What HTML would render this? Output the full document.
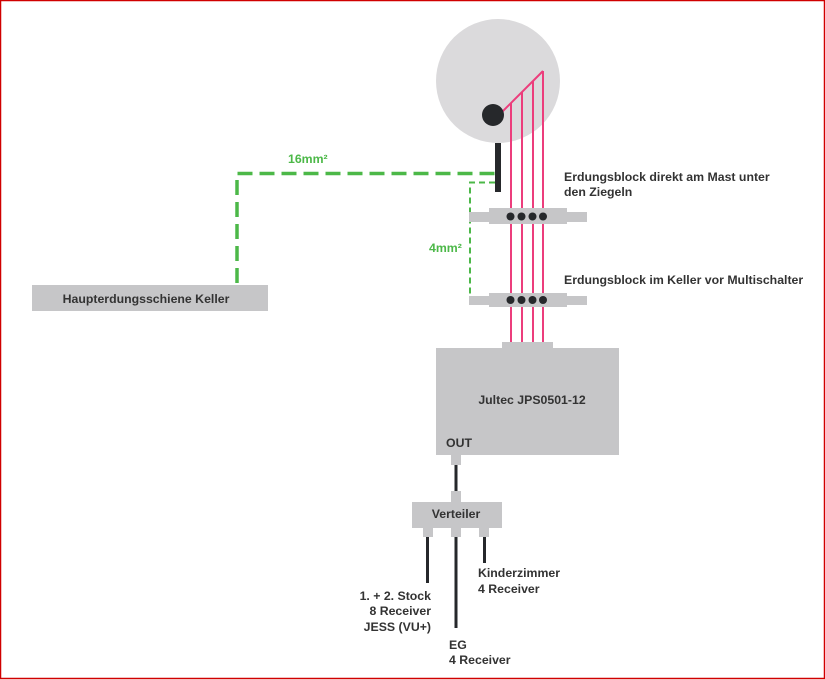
<!DOCTYPE html>
<html>
<head>
<meta charset="utf-8">
<style>
html,body{margin:0;padding:0;background:#fff;}
svg{display:block;}
text{font-family:"Liberation Sans",Arial,sans-serif;font-weight:bold;font-size:12.3px;fill:#333;}
</style>
</head>
<body>
<svg width="825" height="680" viewBox="0 0 825 680" xmlns="http://www.w3.org/2000/svg">
  <rect x="0.5" y="0.5" width="824" height="678" fill="#fff" stroke="#d00000" stroke-width="1.5"/>

  <!-- dish -->
  <circle cx="498" cy="81" r="62" fill="#dbdadc"/>
  <!-- mast -->
  <rect x="495" y="143" width="6" height="49" fill="#26282b"/>

  <!-- pink cables -->
  <g stroke="#ec3d7c" stroke-width="2" fill="none">
    <line x1="500" y1="114" x2="543" y2="71"/>
    <line x1="511" y1="103" x2="511" y2="342"/>
    <line x1="522" y1="92" x2="522" y2="342"/>
    <line x1="533" y1="81" x2="533" y2="342"/>
    <line x1="543" y1="71" x2="543" y2="342"/>
  </g>
  <circle cx="493" cy="115" r="11" fill="#26282b"/>

  <!-- green 16mm2 -->
  <polyline points="237,283 237,173.5 496,173.5" fill="none" stroke="#4cb848" stroke-width="3.5" stroke-dasharray="15 7"/>
  <text x="288" y="163" style="fill:#4cb848">16mm²</text>
  <!-- green 4mm2 -->
  <polyline points="495,182.5 470,182.5 470,296" fill="none" stroke="#4cb848" stroke-width="2" stroke-dasharray="6 4"/>
  <text x="429" y="252" style="fill:#4cb848">4mm²</text>

  <!-- grounding block 1 -->
  <rect x="469" y="212" width="118" height="10" fill="#c6c6c8"/>
  <rect x="489" y="208" width="78" height="16" fill="#c6c6c8"/>
  <g fill="#26282b">
    <circle cx="510.5" cy="216.5" r="4"/>
    <circle cx="521.5" cy="216.5" r="4"/>
    <circle cx="532.5" cy="216.5" r="4"/>
    <circle cx="543" cy="216.5" r="4"/>
  </g>
  <!-- grounding block 2 -->
  <rect x="469" y="296" width="118" height="9" fill="#c6c6c8"/>
  <rect x="489" y="293" width="78" height="14" fill="#c6c6c8"/>
  <g fill="#26282b">
    <circle cx="510.5" cy="300" r="4"/>
    <circle cx="521.5" cy="300" r="4"/>
    <circle cx="532.5" cy="300" r="4"/>
    <circle cx="543" cy="300" r="4"/>
  </g>

  <text x="564" y="181">Erdungsblock direkt am Mast unter</text>
  <text x="564" y="196">den Ziegeln</text>
  <text x="564" y="284">Erdungsblock im Keller vor Multischalter</text>

  <!-- Haupterdungsschiene -->
  <rect x="32" y="285" width="236" height="26" fill="#c6c6c8"/>
  <text x="146" y="303" text-anchor="middle">Haupterdungsschiene Keller</text>

  <!-- Jultec -->
  <rect x="502" y="342" width="51" height="7" fill="#c6c6c8"/>
  <rect x="436" y="348" width="183" height="107" fill="#c6c6c8"/>
  <text x="532" y="404" text-anchor="middle">Jultec JPS0501-12</text>
  <text x="446" y="447">OUT</text>
  <rect x="451" y="455" width="10" height="10" fill="#c6c6c8"/>
  <rect x="454.5" y="465" width="3" height="27" fill="#26282b"/>

  <!-- Verteiler -->
  <rect x="451" y="491" width="10" height="12" fill="#c6c6c8"/>
  <rect x="412" y="502" width="90" height="26" fill="#c6c6c8"/>
  <text x="456" y="518" text-anchor="middle">Verteiler</text>
  <rect x="423" y="527" width="10" height="10" fill="#c6c6c8"/>
  <rect x="451" y="527" width="10" height="10" fill="#c6c6c8"/>
  <rect x="479" y="527" width="10" height="10" fill="#c6c6c8"/>
  <rect x="426" y="537" width="3" height="46" fill="#26282b"/>
  <rect x="454.5" y="537" width="3" height="91" fill="#26282b"/>
  <rect x="483" y="537" width="3" height="26" fill="#26282b"/>

  <text x="431" y="600" text-anchor="end">1. + 2. Stock</text>
  <text x="431" y="615" text-anchor="end">8 Receiver</text>
  <text x="431" y="631" text-anchor="end">JESS (VU+)</text>
  <text x="478" y="577">Kinderzimmer</text>
  <text x="478" y="593">4 Receiver</text>
  <text x="449" y="649">EG</text>
  <text x="449" y="664">4 Receiver</text>
</svg>
</body>
</html>
